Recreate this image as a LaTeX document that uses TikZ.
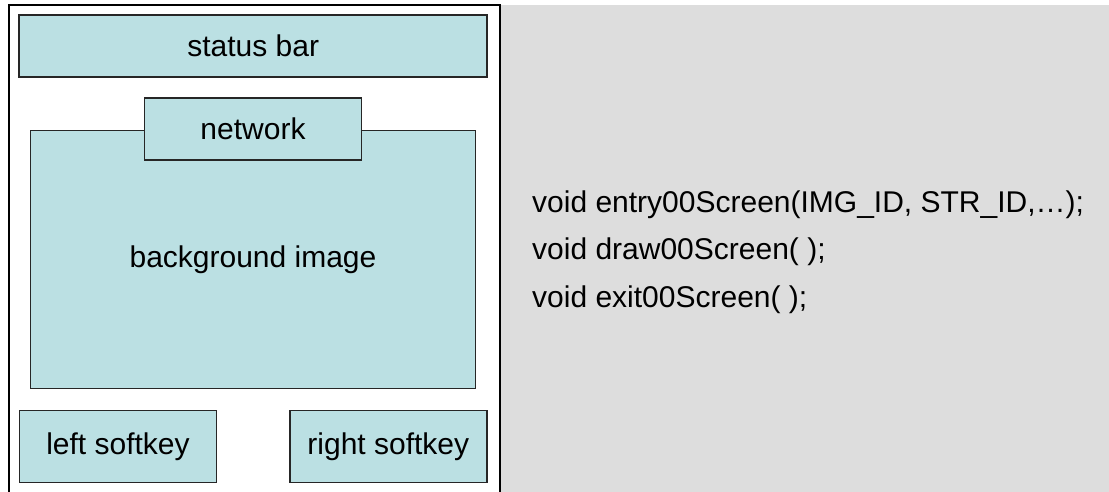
\documentclass[tikz,border=0pt]{standalone}
\usepackage{fontspec}
\setmainfont{Liberation Sans}
\definecolor{panelfill}{HTML}{BBE0E3}
\definecolor{codegray}{HTML}{DDDDDD}
\begin{document}
\begin{tikzpicture}[x=1pt,y=-1pt,
  box/.style={draw=black!85, line width=1.6pt, fill=panelfill, rectangle,
    inner sep=0pt, font=\fontsize{30}{36}\selectfont},
  codeline/.style={anchor=base west, inner sep=0pt,
    font=\fontsize{30}{36}\selectfont}]
\useasboundingbox (0,0) rectangle (1109,492);
\clip (0,0) rectangle (1109,492);
\fill[white] (0,0) rectangle (1109,492);
% code panel
\fill[codegray] (500.7,5) rectangle (1112,496);
% phone screen frame (open at the bottom)
\draw[line width=2pt] (8.7,497) -- (8.7,4.7) -- (499.6,4.7) -- (499.6,497);
% screen regions
\node[box, minimum width=468pt, minimum height=62pt] (statusbar) at (253.2,46.2) {status bar};
\node[box, minimum width=445pt, minimum height=258pt] (bgimage) at (253,259.4) {background image};
\node[box, minimum width=217pt, minimum height=62pt] (network) at (253,129) {network};
\node[box, minimum width=197pt, minimum height=72pt] (leftkey) at (118,446.3) {left softkey};
\node[box, minimum width=197pt, minimum height=72pt] (rightkey) at (388.3,446.3) {right softkey};
% screen API
\node[codeline] (code1) at (532,212) {void entry00Screen(IMG\_ID, STR\_ID,…);};
\node[codeline] (code2) at (532,259.7) {void draw00Screen( );};
\node[codeline] (code3) at (532,307.4) {void exit00Screen( );};
\end{tikzpicture}
\end{document}
